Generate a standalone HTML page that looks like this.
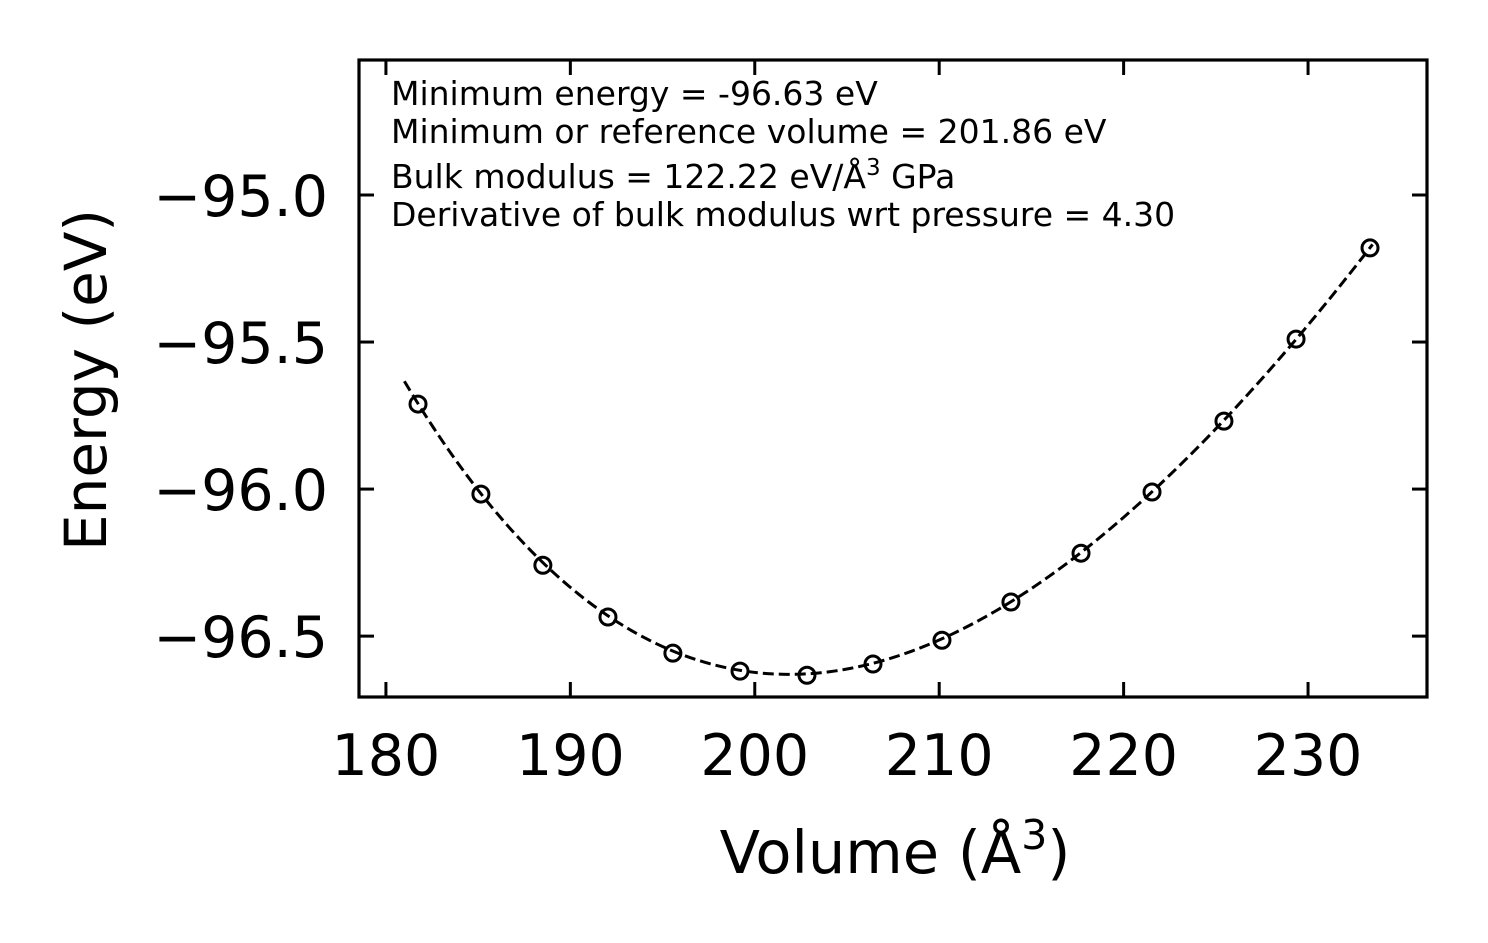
<!DOCTYPE html>
<html><head><meta charset="utf-8"><style>
html,body{margin:0;padding:0;background:#fff;}
svg{display:block;font-family:"DejaVu Sans","Liberation Sans",sans-serif;}
</style></head><body>
<svg id="chart" width="1488" height="943" viewBox="0 0 1488 943">
<g id="g"></g>
<text x="895" y="873" font-size="59" text-anchor="middle">Volume (Å<tspan font-size="41" dy="-24">3</tspan><tspan dy="24">)</tspan></text>
<text transform="translate(106,380) rotate(-90)" font-size="58" text-anchor="middle">Energy (eV)</text>
<g font-size="33">
<text x="391" y="105">Minimum energy = -96.63 eV</text>
<text x="391" y="143">Minimum or reference volume = 201.86 eV</text>
<text x="391" y="188">Bulk modulus = 122.22 eV/Å<tspan font-size="23" dy="-13">3</tspan><tspan dy="13"> GPa</tspan></text>
<text x="391" y="226">Derivative of bulk modulus wrt pressure = 4.30</text>
</g>
</svg>
<script>
const volumes=[181.74,185.15,188.51,192.04,195.56,199.20,202.83,206.41,210.15,213.89,217.69,221.54,225.44,229.35,233.36];
const energies=[-95.711,-96.017,-96.259,-96.435,-96.558,-96.619,-96.633,-96.595,-96.514,-96.384,-96.218,-96.010,-95.769,-95.490,-95.180];
const xTicks=[180,190,200,210,220,230];
const yTicks=[-95.0,-95.5,-96.0,-96.5];
const fitParams=[-96.63,201.86,122.22,4.30];
const fitRange=[181.0,233.5];

const L=359,R=1427,T=60,B=697;
const xMin=178.54,xMax=236.45,yMin=-96.707,yMax=-94.541;
const X=v=>L+(v-xMin)/(xMax-xMin)*(R-L);
const Y=v=>B-(v-yMin)/(yMax-yMin)*(B-T);
const NS='http://www.w3.org/2000/svg';
const g=document.getElementById('g');
function mk(tag,attrs,parent){const e=document.createElementNS(NS,tag);for(const k in attrs)e.setAttribute(k,attrs[k]);(parent||g).appendChild(e);return e;}

const [E0,V0,Bg,Bp]=fitParams;const B0=Bg/160.21766;
function bm(V){const e=Math.pow(V0/V,2/3)-1;return E0+9*V0*B0/16*(e*e*e*Bp+e*e*(6-4*(e+1)));}
let d='';for(let i=0;i<=200;i++){const v=fitRange[0]+(fitRange[1]-fitRange[0])*i/200;d+=(i?'L':'M')+X(v).toFixed(2)+','+Y(bm(v)).toFixed(2);}
const fit=mk('path',{d:d,fill:'none',stroke:'#000','stroke-width':3,'stroke-dasharray':'11,5'});



volumes.forEach((v,i)=>{
 const c=mk('circle',{cx:X(v),cy:Y(energies[i]),r:8,fill:'none',stroke:'#000','stroke-width':3});
 
 
});

const frame=mk('rect',{x:L,y:T,width:R-L,height:B-T,fill:'none',stroke:'#000','stroke-width':3.2});



xTicks.forEach(t=>{
 const x=X(t);
 mk('line',{x1:x,y1:B,x2:x,y2:B-15,stroke:'#000','stroke-width':3});
 mk('line',{x1:x,y1:T,x2:x,y2:T+15,stroke:'#000','stroke-width':3});
 const tx=mk('text',{x:x,y:B+78,'font-size':57,'text-anchor':'middle'});tx.textContent=t;
 
 
});
yTicks.forEach(t=>{
 const y=Y(t);
 mk('line',{x1:L,y1:y,x2:L+15,y2:y,stroke:'#000','stroke-width':3});
 mk('line',{x1:R,y1:y,x2:R-15,y2:y,stroke:'#000','stroke-width':3});
 const tx=mk('text',{x:328,y:y+21,'font-size':57,'text-anchor':'end'});tx.textContent='\u2212'+Math.abs(t).toFixed(1);
 
 
});
</script>
</body></html>
